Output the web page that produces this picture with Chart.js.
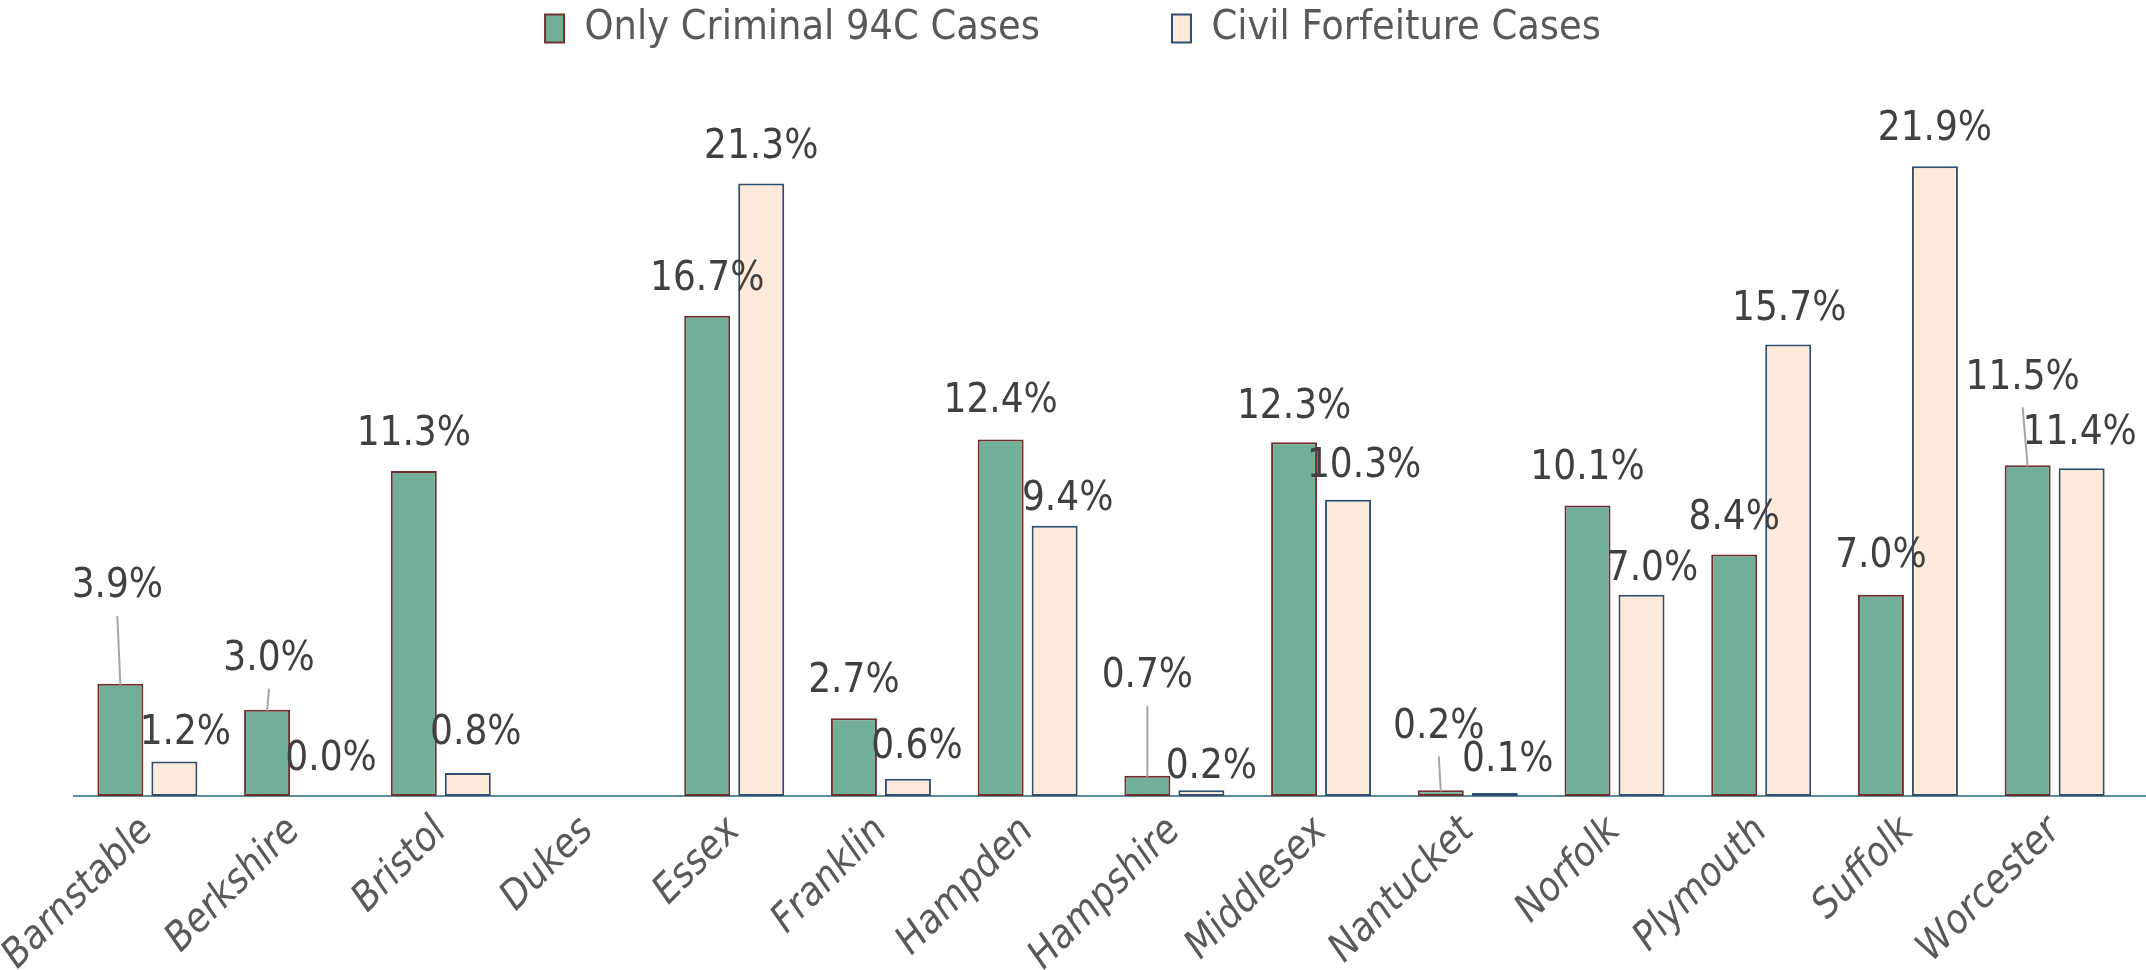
<!DOCTYPE html>
<html><head><meta charset="utf-8">
<script src="https://cdn.jsdelivr.net/npm/chart.js@4.4.1/dist/chart.umd.min.js"></script>
<style>html,body{margin:0;padding:0;background:#fff;} #wrap{width:2146px;height:970px;position:relative;}</style>
</head><body><div id="wrap"><canvas id="c"></canvas></div>
<script>
// ---- data ----
const categories = ['Barnstable','Berkshire','Bristol','Dukes','Essex','Franklin','Hampden','Hampshire','Middlesex','Nantucket','Norfolk','Plymouth','Suffolk','Worcester'];
const seriesNames = ['Only Criminal 94C Cases','Civil Forfeiture Cases'];
const criminalOnly = [3.9, 3.0, 11.3, null, 16.7, 2.7, 12.4, 0.7, 12.3, 0.2, 10.1, 8.4, 7.0, 11.5];
const civilForfeiture = [1.2, 0.0, 0.8, null, 21.3, 0.6, 9.4, 0.2, 10.3, 0.1, 7.0, 15.7, 21.9, 11.4];
const yMax = 25.63;

// ---- label placement (pixel nudges relative to bar top centre) ----
const labelShift = [
  [[-3,-97],[2,-50],[0,-36],null,[0,-36],[0,-37],[0,-38],[0,-99],[0,-35],[-2,-63],[0,-37],[0,-36],[0,-38],[-5,-87]],
  [[11,-28],[10,-36],[8,-39],null,[0,-36],[9,-31],[13,-26],[10,-23],[16,-33],[13,-33],[11,-25],[1,-35],[0,-37],[-2,-35]]
];
const leaderLine = [
  [true,true,false,false,false,false,false,true,false,true,false,false,false,true],
  [false,false,false,false,false,false,false,false,false,false,false,false,false,false]
];

const FONT = "'DejaVu Sans Condensed', 'DejaVu Sans', sans-serif";

const labelPlugin = {
  id: 'barLabels',
  afterDatasetsDraw(chart) {
    const ctx = chart.ctx;
    ctx.save();
    ctx.font = "40px " + FONT;
    ctx.textAlign = 'center';
    ctx.textBaseline = 'middle';
    chart.data.datasets.forEach((ds, i) => {
      const meta = chart.getDatasetMeta(i);
      meta.data.forEach((el, j) => {
        const v = ds.data[j];
        if (v === null || v === undefined) return;
        const s = labelShift[i][j];
        const tx = el.x + s[0], ty = el.y + s[1];
        if (leaderLine[i][j]) {
          ctx.strokeStyle = '#A6A6A6';
          ctx.lineWidth = 2;
          ctx.beginPath();
          ctx.moveTo(tx, ty + 29);
          ctx.lineTo(el.x, el.y + 1);
          ctx.stroke();
        }
        ctx.fillStyle = '#404040';
        ctx.fillText(v.toFixed(1) + '%', tx, ty);
      });
    });
    ctx.restore();
  }
};

const axisExtend = {
  id: 'axisExtend',
  afterDraw(chart) {
    const s = chart.scales.x;
    const ctx = chart.ctx;
    ctx.save();
    ctx.strokeStyle = '#5A8F9B';
    ctx.lineWidth = 2;
    ctx.beginPath();
    const y = Math.round(s.top);
    ctx.moveTo(chart.chartArea.right, y);
    ctx.lineTo(chart.width, y);
    ctx.stroke();
    ctx.restore();
  }
};

const bw = c => (c.raw === 0 ? 0 : 2);

new Chart(document.getElementById('c'), {
  type: 'bar',
  data: {
    labels: categories,
    datasets: [
      { label: seriesNames[0], data: criminalOnly, backgroundColor: '#71AF98', borderColor: '#722F2F', borderWidth: bw, borderSkipped: false, categoryPercentage: 0.736, barPercentage: 0.852 },
      { label: seriesNames[1], data: civilForfeiture, backgroundColor: '#FDEADA', borderColor: '#2F4D6E', borderWidth: bw, borderSkipped: false, categoryPercentage: 0.736, barPercentage: 0.852 }
    ]
  },
  options: {
    responsive: true,
    maintainAspectRatio: false,
    animation: false,
    devicePixelRatio: 1,
    layout: { padding: { top: -124, left: 0, right: 0, bottom: 0 } },
    plugins: {
      legend: {
        position: 'top', align: 'center',
        labels: { boxWidth: 19, boxHeight: 28, padding: 132, color: '#595959', font: { family: FONT, size: 41 } }
      },
      tooltip: { enabled: false }
    },
    scales: {
      x: {
        grid: { display: false, drawTicks: false },
        border: { display: true, color: '#5A8F9B', width: 2 },
        ticks: { autoSkip: false, minRotation: 45, maxRotation: 45, color: '#595959', padding: 12, font: { family: FONT, size: 40, style: 'italic' } },
        afterFit(scale) { scale.height = 174; scale.paddingLeft = 74; scale.paddingRight = 18; }
      },
      y: { display: false, min: 0, max: yMax }
    }
  },
  plugins: [labelPlugin, axisExtend]
});
</script>
</body></html>
